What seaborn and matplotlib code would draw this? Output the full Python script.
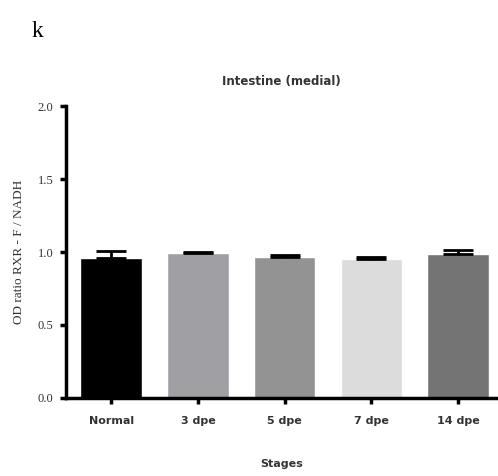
import matplotlib
matplotlib.use("Agg")
import matplotlib.pyplot as plt
import seaborn as sns
import pandas as pd
import numpy as np

stages = ["Normal", "3 dpe", "5 dpe", "7 dpe", "14 dpe"]
values = [0.96, 0.995, 0.965, 0.955, 0.985]
errors = [0.045, 0.006, 0.012, 0.01, 0.028]
colors = ["#000000", "#a0a0a4", "#939393", "#dcdcdc", "#747474"]
yticks = [0.0, 0.5, 1.0, 1.5, 2.0]

sns.set_theme(style="white")
plt.rcParams["font.family"] = ["DejaVu Sans"]

df = pd.DataFrame({"Stage": stages, "Value": values})

fig = plt.figure(figsize=(4.98, 4.76), dpi=100)
ax = fig.add_axes([0.1325, 0.164, 0.866, 0.613])

sns.barplot(data=df, x="Stage", y="Value", hue="Stage", palette=colors,
            errorbar=None, width=0.71, legend=False, ax=ax, saturation=1)
xs = np.arange(len(stages))
ax.errorbar(xs, values, yerr=[np.zeros(len(errors)), errors], fmt="none",
            ecolor="black", elinewidth=2.0, capsize=10.5, capthick=2.0)

ax.set_xlim(-0.52, 4.45)
ax.set_ylim(0, 2.0)
ax.set_yticks(yticks)
ax.set_yticklabels([f"{t:.1f}" for t in yticks], fontfamily="Liberation Serif",
                   fontsize=9, color="#333333")
ax.set_xticks(xs)
ax.set_xticklabels(stages, fontfamily="DejaVu Sans", fontweight="bold",
                   fontsize=8, color="#333333")

for s in ["top", "right"]:
    ax.spines[s].set_visible(False)
for s in ["left", "bottom"]:
    ax.spines[s].set_linewidth(2.5)
    ax.spines[s].set_color("black")
ax.tick_params(axis="both", which="both", direction="out", length=4, width=2.5,
               color="black", left=True, bottom=True)
ax.tick_params(axis="x", pad=9)
ax.tick_params(axis="y", pad=5)

ax.set_xlabel("Stages", fontfamily="DejaVu Sans", fontweight="bold",
              fontsize=8, color="#333333", labelpad=24)
ax.set_ylabel("OD ratio RXR - F / NADH", fontfamily="Liberation Serif",
              fontsize=9.5, color="#333333", labelpad=9)
ax.set_title("Intestine (medial)", fontfamily="DejaVu Sans",
             fontweight="bold", fontsize=8.5, color="#333333", pad=15)

fig.text(0.064, 0.955, "k", fontfamily="Liberation Serif", fontsize=17,
         color="black", va="top")

fig.savefig("out.png", dpi=100, facecolor="white")
